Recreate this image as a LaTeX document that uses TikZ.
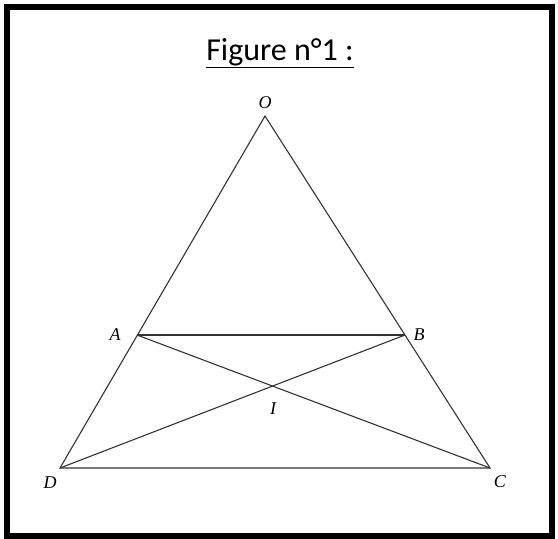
\documentclass[tikz,border=0pt]{standalone}
\usepackage{fontspec}
\setmainfont{Liberation Serif}
\newfontfamily\titlefont{Carlito}
\begin{document}
\begin{tikzpicture}[x=1pt,y=-1pt,
  seg/.style={draw=black!80,line width=1.1pt},
  ptlabel/.style={font=\fontsize{18}{18}\selectfont\itshape,inner sep=0pt},
  frame/.style={draw=black,line width=6pt}]
\useasboundingbox (0,0) rectangle (558,539);
\draw[frame] (6.5,7) rectangle (552,535.5);
\node[font=\titlefont\fontsize{32}{32}\selectfont,inner sep=0pt,anchor=base] (title) at (280,60.5)
  {\underline{Figure n°1 :}};
% points
\coordinate (O) at (265,116);
\coordinate (A) at (137,335);
\coordinate (B) at (405,335);
\coordinate (D) at (60,468);
\coordinate (C) at (490,468);
\coordinate (I) at (272.5,387);
% segments
\draw[seg] (O) -- (D) -- (C) -- cycle;
\draw[seg] (A) -- (B);
\draw[seg] (A) -- (C);
\draw[seg] (B) -- (D);
% labels
\node[ptlabel] (lO) at (265,103) {O};
\node[ptlabel] (lA) at (115,335) {A};
\node[ptlabel] (lB) at (419,335) {B};
\node[ptlabel] (lI) at (273,409) {I};
\node[ptlabel] (lD) at (50,483) {D};
\node[ptlabel] (lC) at (500,482) {C};
\end{tikzpicture}
\end{document}
